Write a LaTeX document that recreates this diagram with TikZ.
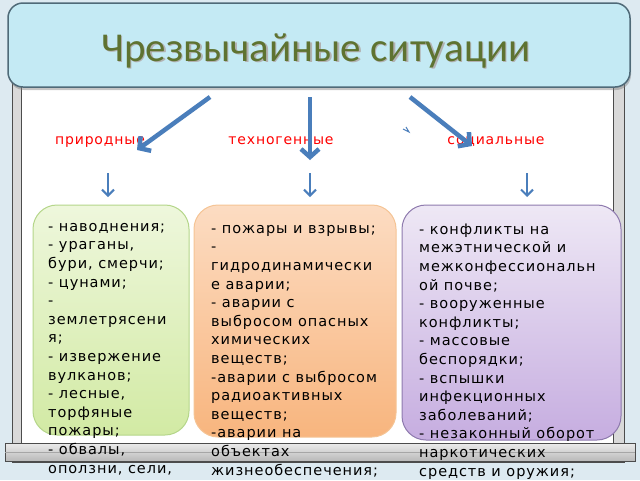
\documentclass[tikz,border=0pt]{standalone}
\usepackage{fontspec}
\newfontfamily\titlefont{Carlito}
\newfontfamily\labelfont[LetterSpace=6]{DejaVu Sans}
\newfontfamily\boxfont[LetterSpace=6.5]{DejaVu Sans}
\usetikzlibrary{arrows.meta,shadows}
\definecolor{bgblue}{HTML}{DDEAF1}
\definecolor{titlefill}{HTML}{C4EAF4}
\definecolor{titleline}{HTML}{4F6A78}
\definecolor{titlegreen}{HTML}{5E7331}
\definecolor{arrowblue}{HTML}{4A7EBB}
\definecolor{greentop}{HTML}{EEF7DC}
\definecolor{greenbot}{HTML}{D2EAA4}
\definecolor{greenline}{HTML}{B5D68A}
\definecolor{orangetop}{HTML}{FCDCC2}
\definecolor{orangebot}{HTML}{F8B57E}
\definecolor{orangeline}{HTML}{F5C495}
\definecolor{violettop}{HTML}{EEE8F5}
\definecolor{violetbot}{HTML}{C6ADE0}
\definecolor{violetline}{HTML}{8E7AAE}
\begin{document}
\begin{tikzpicture}[x=1pt,y=-1pt,
    bigarrow/.style={arrowblue,line width=4.5pt,-{Straight Barb[length=8pt,width=18pt]}},
    smallarrow/.style={arrowblue,line width=2pt,-{Straight Barb[length=6pt,width=12pt]}},
    kindlabel/.style={red,font=\labelfont\fontsize{14}{16}\selectfont,anchor=base,inner sep=0pt},
    listbox/.style={rounded corners=24pt,line width=1pt,inner sep=0pt},
    listtext/.style={font=\boxfont\fontsize{14.5}{18.6}\selectfont,align=left,anchor=base west,inner sep=0pt}]
  \useasboundingbox (0,0) rectangle (640,480);
  \clip (0,0) rectangle (640,480);
  \fill[bgblue] (0,0) rectangle (640,480);
  % frame
  \draw[black!70,fill=gray!30] (12,80) rectangle (624,462);
  \draw[black!70,fill=white] (21,80) rectangle (613,462);
  \draw[black!70,top color=gray!15,bottom color=gray!55] (5,443) rectangle (635,461);
  \draw[black!35] (5,452) -- (635,452);
  % title
  \node[draw=titleline,line width=1.5pt,fill=titlefill,rounded corners=15pt,
        minimum width=622pt,minimum height=84pt,inner sep=0pt,
        drop shadow={shadow xshift=1pt,shadow yshift=-3pt,opacity=.45}] (title) at (319,45) {};
  \node[gray!60,font=\titlefont\fontsize{41}{45}\selectfont,anchor=base] (titleshadow) at (317.5,62.5) {Чрезвычайные ситуации};
  \node[titlegreen,font=\titlefont\fontsize{41}{45}\selectfont,anchor=base] (titletext) at (316,61) {Чрезвычайные ситуации};
  % kinds
  \node[kindlabel] (nat) at (100,144) {природные};
  \node[kindlabel] (tech) at (281,144) {техногенные};
  \node[kindlabel] (soc) at (496,144) {социальные};
  \coordinate (s1) at (210,97);  \coordinate (e1) at (137,150);
  \coordinate (s2) at (310,97);  \coordinate (e2) at (310,160);
  \coordinate (s3) at (410,97);  \coordinate (e3) at (472,146);
  \draw[bigarrow] (s1) -- (e1);
  \draw[bigarrow] (s2) -- (e2);
  \draw[bigarrow] (s3) -- (e3);
  \draw[arrowblue,line width=1pt] (403,129) -- (409,132) -- (406,127);
  \foreach \n/\x in {a/108,b/310,c/527}{
    \coordinate (u\n) at (\x,173);
    \coordinate (d\n) at (\x,197);
    \draw[smallarrow] (u\n) -- (d\n);
  }
  % lists (base = last line)
  \node[listbox,draw=greenline,top color=greentop,bottom color=greenbot,
        minimum width=156pt,minimum height=230pt] (natbox) at (111,320) {};
  \node[listbox,draw=orangeline,top color=orangetop,bottom color=orangebot,
        minimum width=202pt,minimum height=232pt] (techbox) at (295,321) {};
  \node[listbox,draw=violetline,top color=violettop,bottom color=violetbot,
        minimum width=219pt,minimum height=235pt] (socbox) at (511.5,322.5) {};
  \node[listtext] (nattext) at (48,473) {- наводнения;\\- ураганы,\\бури, смерчи;\\- цунами;\\-\\землетрясени\\я;\\- извержение\\вулканов;\\- лесные,\\торфяные\\пожары;\\- обвалы,\\оползни, сели,};
  \node[listtext] (techtext) at (211,475) {- пожары и взрывы;\\-\\гидродинамически\\е аварии;\\- аварии с\\выбросом опасных\\химических\\веществ;\\-аварии с выбросом\\радиоактивных\\веществ;\\-аварии на\\объектах\\жизнеобеспечения;};
  \node[listtext] (soctext) at (419,476) {- конфликты на\\межэтнической и\\межконфессиональн\\ой почве;\\- вооруженные\\конфликты;\\- массовые\\беспорядки;\\- вспышки\\инфекционных\\заболеваний;\\- незаконный оборот\\наркотических\\средств и оружия;};
\end{tikzpicture}
\end{document}
